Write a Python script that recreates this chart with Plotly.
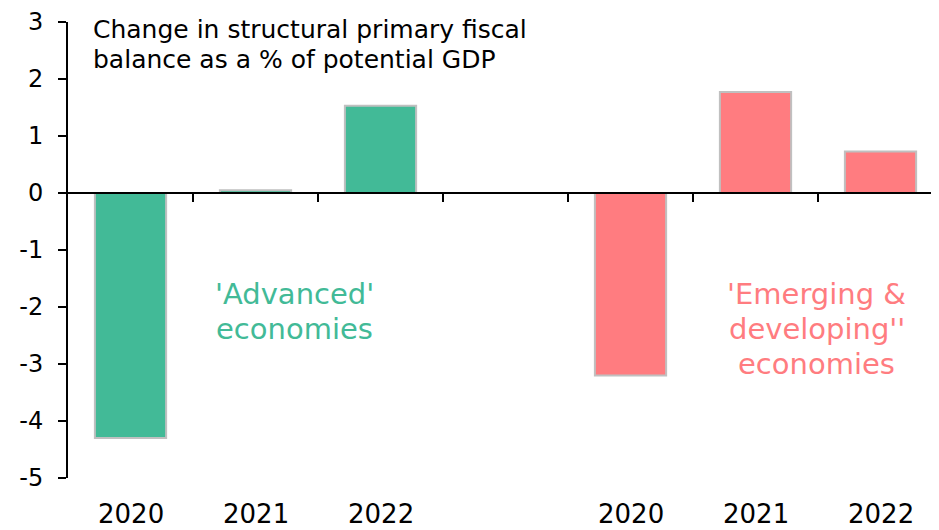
import plotly.graph_objects as go

years = ["2020", "2021", "2022"]
advanced = [-4.3, 0.05, 1.53]
emerging = [-3.2, 1.77, 0.73]
y_ticks = [3, 2, 1, 0, -1, -2, -3, -4, -5]

GREEN = "rgb(66,186,151)"
PINK = "rgb(255,124,128)"
FONT = "DejaVu Sans"

adv_x = list(range(len(years)))
emg_x = [i + len(years) + 1 for i in range(len(years))]

fig = go.Figure()
fig.add_trace(go.Bar(x=adv_x, y=advanced, width=0.57, marker=dict(color=GREEN, line=dict(color="#c0c0c0", width=2))))
fig.add_trace(go.Bar(x=emg_x, y=emerging, width=0.57, marker=dict(color=PINK, line=dict(color="#c0c0c0", width=2))))

ymin, ymax = min(y_ticks), max(y_ticks)
zero_pos = (0 - ymin) / (ymax - ymin)

fig.update_layout(
    width=939, height=530,
    margin=dict(l=60, r=4, t=14, b=60),
    plot_bgcolor="white", paper_bgcolor="white",
    showlegend=False,
    font=dict(family=FONT, color="black"),
    xaxis=dict(range=[-0.5, 6.5], showgrid=False, zeroline=False, automargin=False,
               tickvals=[i + 0.5 for i in range(6)], ticktext=[""] * 6,
               ticks="outside", ticklen=8, tickwidth=2, tickcolor="black",
               showline=True, linecolor="black", linewidth=2,
               anchor="free", position=zero_pos),
    yaxis=dict(range=[ymin, ymax], tickvals=y_ticks, ticktext=[str(v) for v in y_ticks],
               showgrid=False, zeroline=False, showline=True, linecolor="black", linewidth=2,
               automargin=False, ticklabelstandoff=10,
               ticks="outside", ticklen=8, tickwidth=2, tickcolor="black",
               tickfont=dict(size=24, family=FONT, color="black")),
)

for xs in (adv_x, emg_x):
    for x, lab in zip(xs, years):
        fig.add_annotation(x=x, y=0, xref="x", yref="paper", text=lab, showarrow=False,
                           yanchor="top", yshift=-19, font=dict(size=26, family=FONT, color="black"))

title_lines = ["Change in structural primary fiscal", "balance as a % of potential GDP"]
for i, txt in enumerate(title_lines):
    fig.add_annotation(x=0.026, y=1.0, xref="paper", yref="paper", xanchor="left", yanchor="top",
                       align="left", showarrow=False, yshift=9 - 30 * i,
                       text=txt, font=dict(size=25, family=FONT, color="black"))

adv_lines = ["'Advanced'", "economies"]
adv_ys = [-1.77, -2.39]
emg_lines = ["'Emerging &", "developing''", "economies"]
emg_ys = [-1.77, -2.39, -3.0]
for txt, yy in zip(adv_lines, adv_ys):
    fig.add_annotation(x=1.31, y=yy, xref="x", yref="y", showarrow=False,
                       text=txt, font=dict(size=29, family=FONT, color=GREEN))
for txt, yy in zip(emg_lines, emg_ys):
    fig.add_annotation(x=5.49, y=yy, xref="x", yref="y", showarrow=False,
                       text=txt, font=dict(size=29, family=FONT, color=PINK))

fig.write_html("out.html")
